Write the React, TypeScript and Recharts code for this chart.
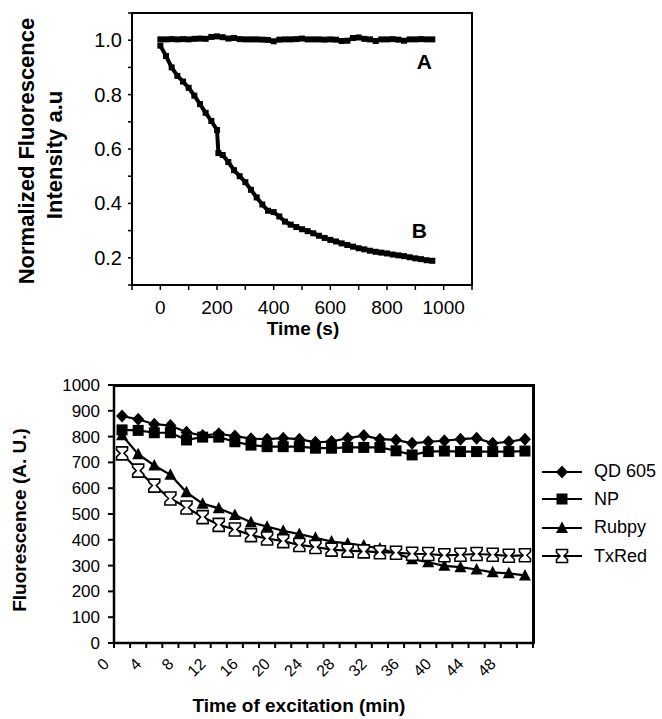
import React from "react";
import {
  LineChart,
  Line,
  XAxis,
  YAxis,
  ReferenceDot,
  Legend,
} from "recharts";

const FONT = "'Liberation Sans', Arial, Helvetica, sans-serif";

// ---- top panel: normalized intensity vs time (s)
const timeA = [
  0, 20, 40, 60, 80, 100, 120, 140, 160, 180, 200, 220, 240, 260, 280, 300, 320,
  340, 360, 380, 400, 420, 440, 460, 480, 500, 520, 540, 560, 580, 600, 620, 640,
  660, 680, 700, 720, 740, 760, 780, 800, 820, 840, 860, 880, 900, 920, 940, 960,
];
const curveA = [
  1.003, 1.003, 1.004, 1.003, 1.004, 1.003, 1.005, 1.006, 1.005, 1.012, 1.014,
  1.011, 1.006, 1.008, 1.004, 1.003, 1.003, 1.003, 1.002, 1.001, 0.996, 1.002,
  1.003, 1.003, 1.004, 1.006, 1.003, 1.003, 1.003, 1.002, 1.003, 1.002, 0.997,
  0.998, 1.008, 1.01, 1.005, 1.003, 0.997, 1.003, 1.003, 1.004, 1.002, 0.998,
  1.003, 1.003, 1.004, 1.003, 1.003,
];
const timeB = [
  0, 20, 40, 60, 80, 100, 120, 140, 160, 180, 200, 205, 220, 240, 260, 280, 300,
  320, 340, 360, 380, 400, 420, 440, 460, 480, 500, 520, 540, 560, 580, 600, 620,
  640, 660, 680, 700, 720, 740, 760, 780, 800, 820, 840, 860, 880, 900, 920, 940, 960,
];
const curveB = [
  0.98, 0.942, 0.9, 0.869, 0.848, 0.825, 0.796, 0.765, 0.733, 0.703, 0.67, 0.585,
  0.578, 0.552, 0.522, 0.5, 0.478, 0.45, 0.422, 0.396, 0.373, 0.368, 0.352, 0.333,
  0.322, 0.313, 0.305, 0.298, 0.29, 0.281, 0.273, 0.266, 0.26, 0.253, 0.247, 0.241,
  0.235, 0.231, 0.226, 0.222, 0.219, 0.216, 0.212, 0.209, 0.206, 0.202, 0.198,
  0.195, 0.191, 0.189,
];
const topXTicks = [-100, 0, 100, 200, 300, 400, 500, 600, 700, 800, 900, 1000, 1100];
const topXLabels = [0, 200, 400, 600, 800, 1000];
const topYTicks = [0.1, 0.2, 0.3, 0.4, 0.5, 0.6, 0.7, 0.8, 0.9, 1.0, 1.1];
const topYLabels = [0.2, 0.4, 0.6, 0.8, 1.0];

// ---- bottom panel: fluorescence vs time of excitation (min)
const timeMin = [
  1, 3, 5, 7, 9, 11, 13, 15, 17, 19, 21, 23, 25, 27, 29, 31, 33, 35, 37, 39, 41,
  43, 45, 47, 49, 51,
];
const qd605 = [
  880, 867, 848, 843, 817, 804, 811, 802, 792, 790, 794, 790, 778, 781, 794, 804,
  790, 787, 774, 780, 784, 790, 794, 774, 780, 790,
];
const np = [
  826, 824, 815, 815, 787, 798, 798, 780, 767, 761, 761, 761, 755, 755, 758, 758,
  758, 745, 729, 742, 744, 742, 742, 742, 742, 744,
];
const rubpy = [
  805, 732, 688, 652, 584, 540, 522, 496, 468, 451, 435, 422, 408, 393, 386, 378,
  366, 348, 325, 313, 299, 294, 285, 274, 270, 262,
];
const txRed = [
  735, 668, 610, 560, 525, 488, 458, 440, 418, 405, 395, 380, 372, 362, 358, 355,
  352, 350, 346, 345, 340, 342, 345, 342, 338, 340,
];
const botXTicks = [
  0, 2, 4, 6, 8, 10, 12, 14, 16, 18, 20, 22, 24, 26, 28, 30, 32, 34, 36, 38, 40,
  42, 44, 46, 48, 50, 52,
];
const botXLabels = [0, 4, 8, 12, 16, 20, 24, 28, 32, 36, 40, 44, 48];
const botYTicks = [0, 100, 200, 300, 400, 500, 600, 700, 800, 900, 1000];

const rowsA = timeA.map((t, i) => ({ t, v: curveA[i] }));
const rowsB = timeB.map((t, i) => ({ t, v: curveB[i] }));
const rowsBottom = timeMin.map((t, i) => ({
  t,
  qd: qd605[i],
  np: np[i],
  rub: rubpy[i],
  tx: txRed[i],
}));

// ---- markers
const SmallSquare = ({ cx, cy }: any) => (
  <rect x={cx - 3} y={cy - 3} width={6} height={6} fill="#000" />
);
const Diamond = ({ cx, cy }: any) => (
  <polygon
    points={`${cx},${cy - 6.5} ${cx + 6},${cy} ${cx},${cy + 6.5} ${cx - 6},${cy}`}
    fill="#000"
  />
);
const Square = ({ cx, cy }: any) => (
  <rect x={cx - 5.5} y={cy - 5.5} width={11} height={11} fill="#000" />
);
const Triangle = ({ cx, cy }: any) => (
  <polygon
    points={`${cx},${cy - 6.5} ${cx + 6},${cy + 5} ${cx - 6},${cy + 5}`}
    fill="#000"
  />
);
const Hourglass = ({ cx, cy }: any) => (
  <polygon
    points={[
      [-5.5, -6.5], [5.5, -6.5], [5.5, -3.5], [2, 0], [5.5, 3.5], [5.5, 6.5],
      [-5.5, 6.5], [-5.5, 3.5], [-2, 0], [-5.5, -3.5],
    ]
      .map(([dx, dy]) => `${cx + dx},${cy + dy}`)
      .join(" ")}
    fill="#fff"
    stroke="#000"
    strokeWidth={1.6}
  />
);

const series = [
  { key: "qd", name: "QD 605", Marker: Diamond },
  { key: "np", name: "NP", Marker: Square },
  { key: "rub", name: "Rubpy", Marker: Triangle },
  { key: "tx", name: "TxRed", Marker: Hourglass },
];

// ---- ticks
const TopYTick = ({ x, y, payload }: any) => {
  const v = payload.value;
  if (!topYLabels.some((l) => Math.abs(l - v) < 1e-6)) return <g />;
  return (
    <text x={x} y={y} dy={7} textAnchor="end" fontSize={20} fill="#000" fontFamily={FONT}>
      {v.toFixed(1)}
    </text>
  );
};
const TopXTick = ({ x, y, payload }: any) => {
  const v = payload.value;
  if (!topXLabels.includes(v)) return <g />;
  return (
    <text x={x} y={y} dy={16} textAnchor="middle" fontSize={19} fill="#000" fontFamily={FONT}>
      {v}
    </text>
  );
};
const BotYTick = ({ x, y, payload }: any) => (
  <text x={x} y={y} dy={6} textAnchor="end" fontSize={17} fill="#000" fontFamily={FONT}>
    {payload.value}
  </text>
);
const BotXTick = ({ x, y, payload }: any) => {
  const v = payload.value;
  if (!botXLabels.includes(v)) return <g />;
  const px = x - 4;
  const py = y + 17;
  return (
    <text
      x={px}
      y={py}
      textAnchor="end"
      fontSize={16}
      fill="#000"
      fontFamily={FONT}
      transform={`rotate(-45, ${px}, ${py})`}
    >
      {v}
    </text>
  );
};

// ---- axis titles
const TopYTitle = () => (
  <g fontFamily={FONT} fontWeight={700} fontSize={22} fill="#000">
    <text x={34} y={151} textAnchor="middle" transform="rotate(-90, 34, 151)">
      Normalized Fluorescence
    </text>
    <text x={62} y={155} textAnchor="middle" transform="rotate(-90, 62, 155)">
      Intensity a.u
    </text>
  </g>
);
const TopXTitle = () => (
  <text x={303} y={335} textAnchor="middle" fontFamily={FONT} fontWeight={700} fontSize={19} fill="#000">
    Time (s)
  </text>
);
const BotYTitle = () => (
  <text
    x={26}
    y={170}
    textAnchor="middle"
    transform="rotate(-90, 26, 170)"
    fontFamily={FONT}
    fontWeight={700}
    fontSize={19}
    fill="#000"
  >
    Fluorescence (A. U.)
  </text>
);
const BotXTitle = () => (
  <text x={299} y={362} textAnchor="middle" fontFamily={FONT} fontWeight={700} fontSize={19} fill="#000">
    Time of excitation (min)
  </text>
);

const legendRowHeights = [27, 28, 29, 28];

const LegendBox = () => (
  <div style={{ fontFamily: FONT, fontSize: 18, color: "#000" }}>
    {series.map((s, i) => (
      <div key={s.key} style={{ display: "flex", alignItems: "center", height: legendRowHeights[i] }}>
        <svg width={44} height={20}>
          <line x1={2} y1={10} x2={42} y2={10} stroke="#000" strokeWidth={2} />
          <s.Marker cx={22} cy={10} />
        </svg>
        <span style={{ marginLeft: 10 }}>{s.name}</span>
      </div>
    ))}
  </div>
);

// top and right edges of each plot box
const frameStyle = (left: number, top: number, w: number, h: number, bw: number) => ({
  position: "absolute" as const,
  left,
  top,
  width: w,
  height: h,
  boxSizing: "border-box" as const,
  borderTop: `${bw}px solid #000`,
  borderRight: `${bw}px solid #000`,
  pointerEvents: "none" as const,
  zIndex: 5,
});

const App = () => (
  <div style={{ position: "absolute", left: 0, top: 0, width: 662, height: 719, background: "#fff", fontFamily: FONT }}>
    <div style={{ position: "absolute", left: 0, top: 0 }}>
      <LineChart width={662} height={350} margin={{ top: 13, right: 190, bottom: 0, left: 0 }}>
        <XAxis
          type="number"
          dataKey="t"
          domain={[-100, 1100]}
          ticks={topXTicks}
          interval={0}
          allowDataOverflow
          height={65}
          tickSize={5}
          tickMargin={8}
          tickLine={{ stroke: "#000", strokeWidth: 1.5 }}
          axisLine={{ stroke: "#000", strokeWidth: 2 }}
          tick={<TopXTick />}
          label={<TopXTitle />}
        />
        <YAxis
          type="number"
          domain={[0.1, 1.1]}
          ticks={topYTicks}
          interval={0}
          allowDataOverflow
          width={132}
          tickSize={4}
          tickMargin={6}
          tickLine={{ stroke: "#000", strokeWidth: 1.5 }}
          axisLine={{ stroke: "#000", strokeWidth: 2 }}
          tick={<TopYTick />}
          label={<TopYTitle />}
        />
        <Line
          data={rowsA}
          dataKey="v"
          stroke="#000"
          strokeWidth={4}
          isAnimationActive={false}
          dot={(p: any) => <SmallSquare key={`a-${p.index}`} cx={p.cx} cy={p.cy} />}
        />
        <Line
          data={rowsB}
          dataKey="v"
          stroke="#000"
          strokeWidth={4}
          isAnimationActive={false}
          dot={(p: any) => <SmallSquare key={`b-${p.index}`} cx={p.cx} cy={p.cy} />}
        />
        <ReferenceDot
          x={932}
          y={0.922}
          r={0}
          label={{ value: "A", position: "center", fill: "#000", fontSize: 21, fontWeight: 700, fontFamily: FONT }}
        />
        <ReferenceDot
          x={914}
          y={0.3}
          r={0}
          label={{ value: "B", position: "center", fill: "#000", fontSize: 21, fontWeight: 700, fontFamily: FONT }}
        />
      </LineChart>
      <div style={frameStyle(131, 12, 342, 274, 2)} />
    </div>
    <div style={{ position: "absolute", left: 0, top: 350 }}>
      <LineChart
        width={662}
        height={369}
        data={rowsBottom}
        margin={{ top: 35, right: 129, bottom: 0, left: 0 }}
      >
        <XAxis
          type="number"
          dataKey="t"
          domain={[0, 52]}
          ticks={botXTicks}
          interval={0}
          height={76}
          tickSize={5}
          tickMargin={0}
          tickLine={{ stroke: "#000", strokeWidth: 2 }}
          axisLine={{ stroke: "#000", strokeWidth: 2.5 }}
          tick={<BotXTick />}
          label={<BotXTitle />}
        />
        <YAxis
          type="number"
          domain={[0, 1000]}
          ticks={botYTicks}
          interval={0}
          width={114}
          tickSize={6}
          tickMargin={8}
          tickLine={{ stroke: "#000", strokeWidth: 2 }}
          axisLine={{ stroke: "#000", strokeWidth: 2.5 }}
          tick={<BotYTick />}
          label={<BotYTitle />}
        />
        {series.map((s) => (
          <Line
            key={s.key}
            dataKey={s.key}
            name={s.name}
            stroke="#000"
            strokeWidth={2.2}
            isAnimationActive={false}
            dot={(p: any) => <s.Marker key={`${s.key}-${p.index}`} cx={p.cx} cy={p.cy} />}
          />
        ))}
        <Legend
          layout="vertical"
          align="center"
          verticalAlign="middle"
          content={<LegendBox />}
          wrapperStyle={{ left: 540, top: 108, width: 122 }}
        />
      </LineChart>
      <div style={frameStyle(113, 33.5, 421.5, 260, 3)} />
    </div>
  </div>
);

export default App;
